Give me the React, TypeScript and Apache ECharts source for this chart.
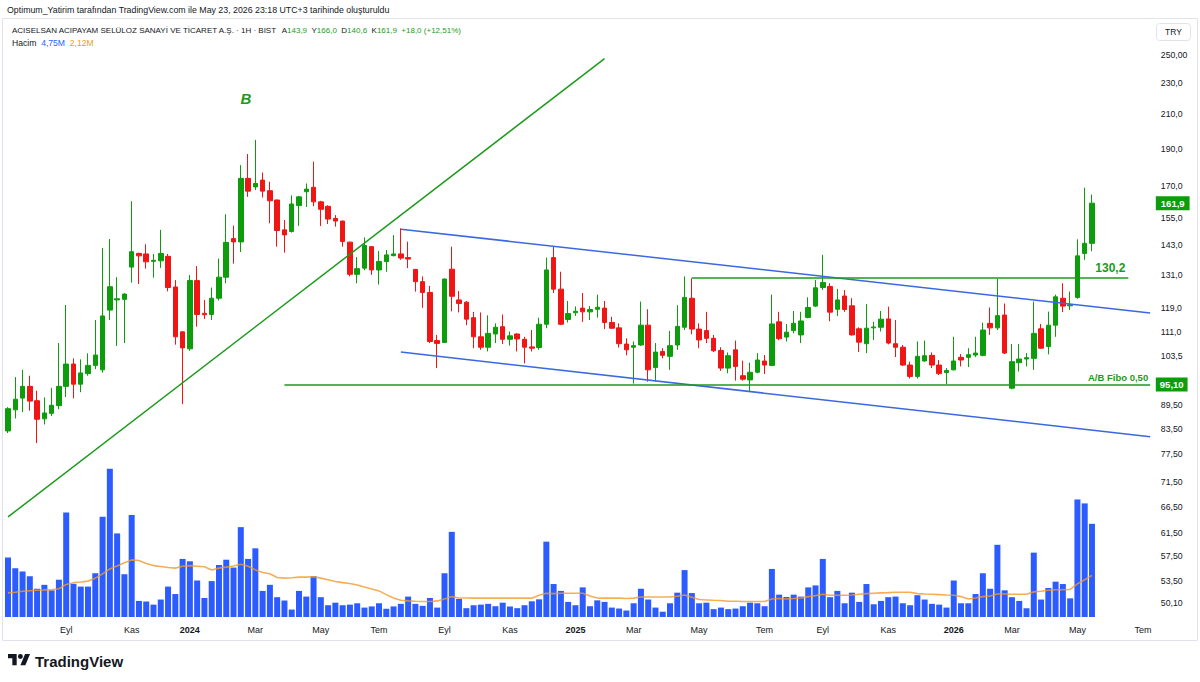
import React, { useEffect, useRef } from 'react';
import * as echarts from 'echarts';

// ---------- data ----------
const START_UTC = Date.UTC(2023, 6, 10); // first weekly bar (Mon 10 Jul 2023)
const TOTAL_SLOTS = 158; // 150 bars + empty space to the right
const monthNames = ['Oca', 'Şub', 'Mar', 'Nis', 'May', 'Haz', 'Tem', 'Ağu', 'Eyl', 'Eki', 'Kas', 'Ara'];
const labeledMonths = [0, 2, 4, 6, 8, 10];

const openP = [
  83, 88.3, 91.4, 94.6, 90.7, 86.0, 87.4, 89.4, 94.6, 101,
  95.2, 98.2, 100.6, 99.3, 118.3, 121.9, 122.1, 134.2, 139.7, 139.5,
  136.5, 136.7, 138.5, 126.6, 111, 105.6, 129, 117.2, 116.8, 122.5,
  130.3, 145.9, 144.5, 174.1, 169.8, 173.2, 167.9, 163.4, 149.7, 149,
  160.8, 167.4, 169.6, 162.5, 160.4, 154.8, 153.6, 144.4, 131.4, 133.8,
  142.5, 133.1, 136.4, 138.8, 139.5, 138, 133.3, 128.6, 124.6, 108.2,
  107.6, 133.4, 121.9, 121.1, 115.7, 109.4, 106.1, 110.3, 112.7, 108.6,
  110.3, 108.6, 106.2, 106, 113.5, 138, 125.8, 115.1, 117.4, 119,
  117.7, 118.6, 119, 114.1, 112.3, 107.1, 106.1, 106.8, 113.2, 100,
  104.8, 103.3, 106.8, 112.5, 122.5, 111.9, 111.4, 108.9, 105.1, 99.8,
  105.3, 97.6, 96.4, 98.6, 101.9, 100.6, 114.3, 109.3, 111.4, 110,
  115.8, 119.7, 126.4, 126.8, 118.6, 123.3, 119.8, 112, 107.2, 112.3,
  112.5, 115.3, 107.2, 106.1, 100.7, 97.4, 101.9, 103.6, 100.7, 98.5,
  99.3, 103, 103, 103.7, 103.6, 113.8, 112.3, 116.6, 94.1, 101.4,
  102.5, 102.7, 112, 106.3, 113.2, 122.5, 119.8, 122.8, 139.7, 143.9,
];
const highP = [
  89, 97.2, 99.3, 97.6, 93.4, 91.6, 94.2, 107.4, 120.1, 102.7,
  102.4, 104.2, 114.9, 141.9, 145.7, 130.3, 124.3, 162.8, 140, 143.5,
  139.5, 149.7, 139.5, 129.2, 111.2, 131.1, 134.6, 121.9, 126.4, 137.6,
  156.7, 151.6, 181, 187, 194.9, 177.1, 172.4, 163.6, 154.1, 165.6,
  165.3, 171.5, 182.9, 163, 160.9, 156.3, 153.8, 144.6, 138.2, 146.4,
  142.7, 140.7, 141.1, 147.4, 150.4, 144.6, 133.5, 130.6, 127, 110,
  129.8, 142.5, 125.1, 121.5, 117.7, 117.5, 116.5, 113.8, 116.8, 111.1,
  110.5, 109.4, 111.6, 115.7, 138, 142.5, 132.4, 121.5, 119.6, 124.4,
  119.7, 123.8, 121.5, 116, 113.8, 108.9, 107.9, 121.3, 118.6, 107.4,
  105.8, 111.3, 120, 130.6, 129.9, 113.8, 117.7, 110, 106.1, 104.5,
  108.2, 102, 101.4, 104.3, 103.7, 123.8, 117.7, 113.6, 118, 117.7,
  122.8, 129.2, 139.1, 128, 125.9, 125.5, 122.5, 112.5, 120.4, 114.3,
  118, 119.5, 114.9, 106.8, 101.7, 107.9, 108.2, 104.5, 102.2, 99.8,
  109.4, 104, 105.8, 109.4, 114, 119.2, 129.6, 120.6, 107.1, 107.1,
  104.3, 121.3, 113.6, 117.8, 123.8, 128, 124.9, 145.6, 169.4, 166,
];
const lowP = [
  82.5, 86.1, 87.7, 88.1, 80.1, 84.6, 86.7, 88.5, 91.7, 91.3,
  93, 97.6, 99.5, 98.5, 114.9, 106.5, 107.4, 128.2, 127.7, 133.6,
  130.1, 133.9, 125, 106.9, 89.8, 105, 112.7, 115.3, 114.9, 121.7,
  128, 135.6, 140.3, 164.9, 168.2, 164.6, 152.6, 142.5, 140, 148.5,
  151.5, 160.1, 160.4, 151.4, 152.3, 151.1, 142.5, 130.6, 128, 133,
  131.2, 127.5, 132.4, 138.5, 137.1, 133.8, 124.9, 119.1, 107.4, 99.8,
  107.4, 117.9, 117.5, 113.2, 105.8, 105.3, 104.8, 107.4, 107.1, 106.6,
  104.8, 101.2, 104.8, 105.3, 112.2, 124.4, 113.2, 114.1, 116.3, 114.3,
  114.9, 115.7, 111.9, 111.9, 106, 103.6, 95.4, 106.5, 95.9, 95.9,
  102.7, 99.3, 105.3, 111.6, 110.2, 105.8, 107.4, 104.6, 99, 98.3,
  96.2, 96.2, 93.1, 98.3, 98.1, 100.4, 108.3, 107.9, 110.5, 107.4,
  115.5, 119.4, 125.5, 114.5, 116.3, 117.7, 109.8, 104.6, 104.3, 108.4,
  111.1, 107, 103.1, 100.4, 96.8, 96.8, 101.7, 99.8, 97.8, 95.2,
  99.1, 100.3, 100.1, 103.1, 103.3, 110, 111.6, 104, 93.8, 98.8,
  100.3, 99.3, 105.6, 103.9, 109.4, 117.6, 118.3, 122.3, 137.1, 140.6,
];
const closeP = [
  88.6, 91.1, 94.6, 90.6, 85.9, 87.5, 89.5, 94.6, 101, 95.2,
  98.4, 100.6, 103.7, 116.3, 126.7, 122.3, 124, 140.4, 138.7, 136.3,
  136.9, 139.7, 126.4, 109.4, 105.9, 129, 116.8, 116.7, 122.5, 130.3,
  144.3, 144.5, 174.1, 167.7, 171.5, 167.7, 163, 149.4, 147.5, 161.5,
  164.9, 168.7, 162.5, 159, 154.5, 153.6, 144.7, 131.4, 133.6, 143,
  133.1, 136.4, 139.1, 139.5, 137.8, 137.4, 128.6, 124.6, 107.9, 107.3,
  129.6, 123.2, 120.6, 115.2, 109.4, 106.1, 110.5, 112.5, 108.6, 109.7,
  108.7, 106.1, 105.8, 113.5, 133.1, 125.8, 113.5, 117.1, 117.9, 117.7,
  118.5, 119.3, 114.1, 112.2, 107.2, 105.3, 106.6, 113.2, 99.3, 104.6,
  103.6, 106.6, 112.8, 122.8, 111.9, 108.4, 108.9, 105, 99.8, 103.5,
  100.3, 96.6, 98.6, 102.2, 100.7, 113.6, 108.8, 110.9, 113.8, 114.6,
  119.2, 126.3, 128.3, 117.6, 121.9, 118.5, 110, 107.7, 112.2, 112.6,
  115.2, 107.4, 106.1, 100.7, 97.4, 103.3, 103.5, 100.7, 98.2, 99.1,
  101.9, 102.2, 103.8, 104.3, 111.6, 112.3, 116.4, 104.3, 101.7, 102.5,
  102.9, 110.5, 105.8, 113.2, 123, 119.7, 120.2, 138.7, 143.9, 161.9,
];
// weekly volume, millions
const volumeM = [
  3.03, 2.49, 2.32, 2.08, 1.44, 1.64, 1.36, 1.90, 5.32, 1.69,
  1.55, 1.55, 2.23, 5.11, 7.56, 4.26, 2.18, 5.20, 0.82, 0.79,
  0.63, 0.89, 1.55, 1.17, 2.96, 2.84, 1.86, 0.97, 1.83, 2.65,
  2.92, 2.52, 4.58, 2.96, 3.50, 1.33, 1.64, 1.01, 0.84, 0.38,
  1.33, 1.04, 2.08, 1.01, 0.60, 0.73, 0.60, 0.63, 0.70, 0.48,
  0.54, 0.70, 0.42, 0.54, 0.67, 1.04, 0.67, 0.57, 0.97, 0.48,
  2.23, 4.34, 0.92, 0.45, 0.60, 0.63, 0.67, 0.55, 0.73, 0.54,
  0.45, 0.60, 0.80, 0.90, 3.84, 1.68, 1.33, 0.77, 0.60, 1.51,
  0.55, 0.85, 0.77, 0.48, 0.43, 0.33, 0.70, 1.44, 0.89, 0.48,
  0.27, 0.70, 1.24, 2.39, 1.22, 0.70, 0.73, 0.40, 0.48, 0.40,
  0.43, 0.55, 0.73, 0.70, 0.55, 2.45, 1.14, 1.02, 1.14, 1.04,
  1.51, 1.61, 2.96, 1.01, 1.33, 0.70, 1.24, 0.77, 1.68, 0.65,
  0.82, 1.01, 1.04, 0.70, 0.60, 1.11, 0.89, 0.67, 0.63, 0.48,
  1.86, 0.70, 0.70, 1.17, 2.23, 1.44, 3.68, 1.36, 1.01, 0.82,
  0.45, 3.28, 0.89, 1.48, 1.80, 1.68, 0.95, 5.99, 5.79, 4.75,
];
// volume moving-average line, millions
const volumeMA = [
  1.23, 1.26, 1.31, 1.34, 1.36, 1.38, 1.39, 1.44, 1.66, 1.75,
  1.78, 1.83, 1.98, 2.20, 2.45, 2.60, 2.76, 2.91, 2.88, 2.73,
  2.62, 2.57, 2.52, 2.49, 2.59, 2.62, 2.59, 2.56, 2.40, 2.49,
  2.54, 2.60, 2.69, 2.59, 2.40, 2.27, 2.20, 2.01, 1.98, 2.00,
  2.03, 2.03, 2.05, 1.98, 1.90, 1.81, 1.75, 1.71, 1.63, 1.53,
  1.43, 1.33, 1.14, 0.97, 0.85, 0.82, 0.80, 0.79, 0.79, 0.82,
  0.92, 1.04, 0.97, 0.97, 0.96, 0.96, 0.96, 0.96, 0.96, 0.96,
  0.96, 0.96, 0.96, 1.11, 1.21, 1.19, 1.21, 1.21, 1.21, 1.21,
  1.07, 0.97, 0.96, 0.96, 0.96, 0.94, 0.96, 1.02, 1.02, 1.02,
  1.02, 1.02, 1.06, 1.12, 1.01, 0.89, 0.87, 0.85, 0.84, 0.80,
  0.80, 0.79, 0.79, 0.79, 0.79, 0.92, 0.94, 0.92, 0.94, 0.97,
  1.04, 1.09, 1.16, 1.11, 1.11, 1.11, 1.12, 1.16, 1.19, 1.21,
  1.23, 1.24, 1.26, 1.26, 1.26, 1.19, 1.17, 1.16, 1.14, 1.12,
  1.11, 1.04, 0.92, 0.97, 1.04, 1.07, 1.17, 1.17, 1.16, 1.16,
  1.16, 1.28, 1.31, 1.36, 1.39, 1.39, 1.41, 1.69, 1.90, 2.12,
];
const priceTicks = [250, 230, 210, 190, 170, 155, 143, 131, 119, 111, 103.5, 89.5, 83.5, 77.5, 71.5, 66.5, 61.5, 57.5, 53.5, 50.1];
const priceTickLabels = ['250,00', '230,0', '210,0', '190,0', '170,0', '155,0', '143,0', '131,0', '119,0', '111,0', '103,5', '89,50', '83,50', '77,50', '71,50', '66,50', '61,50', '57,50', '53,50', '50,10'];

// drawn lines: [startIndex, startPrice, endIndex, endPrice]
const trendLineB = [0, 64.5, 82, 247.4];
const channelUpper = [54, 150.0, 157, 117.3];
const channelLower = [54, 104.6, 157, 81.6];
const fiboLevel = [38, 95.1, 157, 95.1];
const resistLevel = [94, 130.2, 154, 130.2];
const lastPrice = 161.9;

// ---------- colours ----------
const UP = '#0c9c0c';
const DOWN = '#f01616';
const LINE_GREEN = '#1c9a1c';
const LINE_BLUE = '#3a68e0';
const VOL_BLUE = '#2c5cff';
const MA_ORANGE = '#f39a2a';
const TEXT = '#131722';
const FONT = 'Liberation Sans, Arial, sans-serif';

let shapeRegistered = false;
function registerLogo() {
  if (shapeRegistered) return;
  const d = 'M14 22H7V11H0V4h14v18zM28 22h-8l7.5-18h8L28 22zM20 12a4 4 0 1 0 0-8 4 4 0 0 0 0 8z';
  echarts.graphic.registerShape('tvlogo', echarts.graphic.extendPath(d, {}));
  shapeRegistered = true;
}

function buildDates() {
  const cats: string[] = [];
  const labels: string[] = [];
  for (let i = 0; i < TOTAL_SLOTS; i++) {
    const d = new Date(START_UTC + i * 7 * 86400000);
    cats.push(d.toISOString().slice(0, 10));
    const m = d.getUTCMonth();
    if (d.getUTCDate() <= 7 && labeledMonths.indexOf(m) >= 0) {
      labels.push(m === 0 ? '{y|' + d.getUTCFullYear() + '}' : monthNames[m]);
    } else {
      labels.push('');
    }
  }
  return { cats, labels };
}

function seg(a: number[], color: string, width: number, label?: any) {
  return [
    { coord: [a[0], a[1]], lineStyle: { color, width, type: 'solid' }, label: label || { show: false } },
    { coord: [a[2], a[3]] },
  ];
}

export default function App() {
  const ref = useRef<HTMLDivElement>(null);
  useEffect(() => {
    registerLogo();
    const chart = echarts.init(ref.current as HTMLDivElement, null, { renderer: 'svg' });
    const { cats, labels } = buildDates();
    const candleData = openP.map((o, i) => [o, closeP[i], lowP[i], highP[i]]);
    const bandW = 7.275;
    const gridLeft = 4.36;
    const gridWidth = bandW * TOTAL_SLOTS;

    const option: any = {
      animation: false,
      backgroundColor: '#ffffff',
      textStyle: { fontFamily: FONT },
      grid: [
        { left: gridLeft, top: 20, width: gridWidth, height: 597 },
        { left: gridLeft, top: 462, width: gridWidth, height: 155 },
      ],
      xAxis: [
        {
          type: 'category', gridIndex: 0, data: cats, boundaryGap: true,
          axisLine: { show: false }, axisTick: { show: false }, axisLabel: { show: false }, splitLine: { show: false },
        },
        {
          type: 'category', gridIndex: 1, data: cats, boundaryGap: true,
          axisLine: { show: false }, axisTick: { show: false }, splitLine: { show: false },
          axisLabel: {
            interval: 0, margin: 8, fontSize: 9, color: TEXT, fontFamily: FONT,
            formatter: (_v: string, idx: number) => labels[idx] || '',
            rich: { y: { fontSize: 9, fontWeight: 'bold', color: TEXT, fontFamily: FONT } },
          },
        },
      ],
      yAxis: [
        {
          type: 'log', logBase: 10, gridIndex: 0, position: 'right', min: 48.1, max: 277,
          axisLine: { show: false }, axisTick: { show: false }, splitLine: { show: false },
          axisLabel: {
            customValues: priceTicks, margin: 7, fontSize: 8.7, color: TEXT, fontFamily: FONT,
            formatter: (v: number) => {
              const k = priceTicks.findIndex((t) => Math.abs(t - v) / t < 0.003);
              return k >= 0 ? priceTickLabels[k] : '';
            },
          },
        },
        { type: 'value', gridIndex: 1, min: 0, max: 7.9, show: false },
      ],
      series: [
        {
          type: 'bar', name: 'Hacim', xAxisIndex: 1, yAxisIndex: 1, data: volumeM,
          barWidth: 6, itemStyle: { color: VOL_BLUE }, z: 1, silent: true,
        },
        {
          type: 'line', name: 'MA', xAxisIndex: 1, yAxisIndex: 1, data: volumeMA,
          showSymbol: false, symbol: 'none', lineStyle: { color: MA_ORANGE, width: 1.6, opacity: 0.8 }, z: 2, silent: true,
        },
        {
          type: 'candlestick', name: 'ACSEL', xAxisIndex: 0, yAxisIndex: 0, data: candleData,
          barWidth: 5, z: 3,
          itemStyle: { color: UP, color0: DOWN, borderColor: UP, borderColor0: DOWN, borderWidth: 1 },
          markLine: {
            silent: true, symbol: ['none', 'none'], animation: false, z: 5,
            label: { show: false },
            data: [
              seg(trendLineB, LINE_GREEN, 1.5),
              seg(channelUpper, LINE_BLUE, 1.5),
              seg(channelLower, LINE_BLUE, 1.5),
              seg(fiboLevel, LINE_GREEN, 1.5, {
                show: true, position: 'insideEndTop', formatter: 'A/B Fibo 0,50', color: LINE_GREEN,
                fontSize: 9.5, fontWeight: 'bold', distance: 2, fontFamily: FONT,
              }),
              seg(resistLevel, LINE_GREEN, 1.5, {
                show: true, position: 'insideEndTop', formatter: '130,2', color: LINE_GREEN,
                fontSize: 12, fontWeight: 'bold', distance: 3, fontFamily: FONT,
              }),
              {
                yAxis: fiboLevel[1], lineStyle: { color: 'rgba(0,0,0,0)', width: 0 },
                label: {
                  show: true, position: 'end', formatter: '95,10', color: '#fff', backgroundColor: UP,
                  fontSize: 9.5, fontWeight: 'bold', padding: [2, 4, 2, 4], distance: 2, fontFamily: FONT,
                },
              },
              {
                yAxis: lastPrice, lineStyle: { color: 'rgba(0,0,0,0)', width: 0 },
                label: {
                  show: true, position: 'end', formatter: '161,9', color: '#fff', backgroundColor: UP,
                  fontSize: 9.5, fontWeight: 'bold', padding: [2, 5, 2, 5], distance: 2, fontFamily: FONT,
                },
              },
            ],
          },
        },
      ],
      graphic: [
        {
          type: 'rect', silent: true, z: 0,
          shape: { x: 2.5, y: 18.5, width: 1195, height: 622 },
          style: { fill: 'none', stroke: '#e0e3eb', lineWidth: 1 },
        },
        {
          type: 'text', x: 7, y: 10, silent: true,
          style: {
            text: 'Optimum_Yatirim tarafından TradingView.com ile May 23, 2026 23:18 UTC+3 tarihinde oluşturuldu',
            fill: TEXT, fontSize: 8.8, fontFamily: FONT, verticalAlign: 'middle',
          },
        },
        {
          type: 'text', x: 12, y: 30, silent: true,
          style: {
            text: '{d|ACISELSAN ACIPAYAM SELÜLOZ SANAYİ VE TİCARET A.Ş. · 1H · BIST}  {d|A}{g|143,9}  {d|Y}{g|166,0}  {d|D}{g|140,6}  {d|K}{g|161,9}  {g|+18,0 (+12,51%)}',
            fontSize: 8, fontFamily: FONT, verticalAlign: 'middle',
            rich: {
              d: { fill: TEXT, fontSize: 8, fontFamily: FONT },
              g: { fill: '#1a9c1a', fontSize: 8, fontFamily: FONT },
            },
          },
        },
        {
          type: 'text', x: 12, y: 43, silent: true,
          style: {
            text: '{d|Hacim}  {b|4,75M}  {o|2,12M}',
            fontSize: 8.6, fontFamily: FONT, verticalAlign: 'middle',
            rich: {
              d: { fill: TEXT, fontSize: 8.6, fontFamily: FONT },
              b: { fill: '#2962ff', fontSize: 8.6, fontFamily: FONT },
              o: { fill: MA_ORANGE, fontSize: 8.6, fontFamily: FONT },
            },
          },
        },
        {
          type: 'rect', silent: true,
          shape: { x: 1156.5, y: 23.5, width: 34, height: 17, r: 3 },
          style: { fill: '#fff', stroke: '#e0e3eb', lineWidth: 1 },
        },
        {
          type: 'text', x: 1173.5, y: 32, silent: true,
          style: { text: 'TRY', fill: TEXT, fontSize: 8.5, fontFamily: FONT, align: 'center', verticalAlign: 'middle' },
        },
        {
          type: 'text', x: 246, y: 98, silent: true,
          style: {
            text: 'B', fill: LINE_GREEN, fontSize: 15, fontWeight: 'bold', fontStyle: 'italic',
            fontFamily: FONT, align: 'center', verticalAlign: 'middle',
          },
        },
        {
          type: 'tvlogo', x: 8, y: 651.5, scaleX: 0.62, scaleY: 0.62, silent: true,
          style: { fill: TEXT },
        },
        {
          type: 'text', x: 35, y: 661, silent: true,
          style: { text: 'TradingView', fill: TEXT, fontSize: 15, fontWeight: 'bold', fontFamily: FONT, verticalAlign: 'middle' },
        },
      ],
    };
    chart.setOption(option);
    return () => chart.dispose();
  }, []);
  return (
    <div
      ref={ref}
      style={{ position: 'fixed', left: 0, top: 0, width: 1200, height: 682, background: '#ffffff' }}
    />
  );
}
